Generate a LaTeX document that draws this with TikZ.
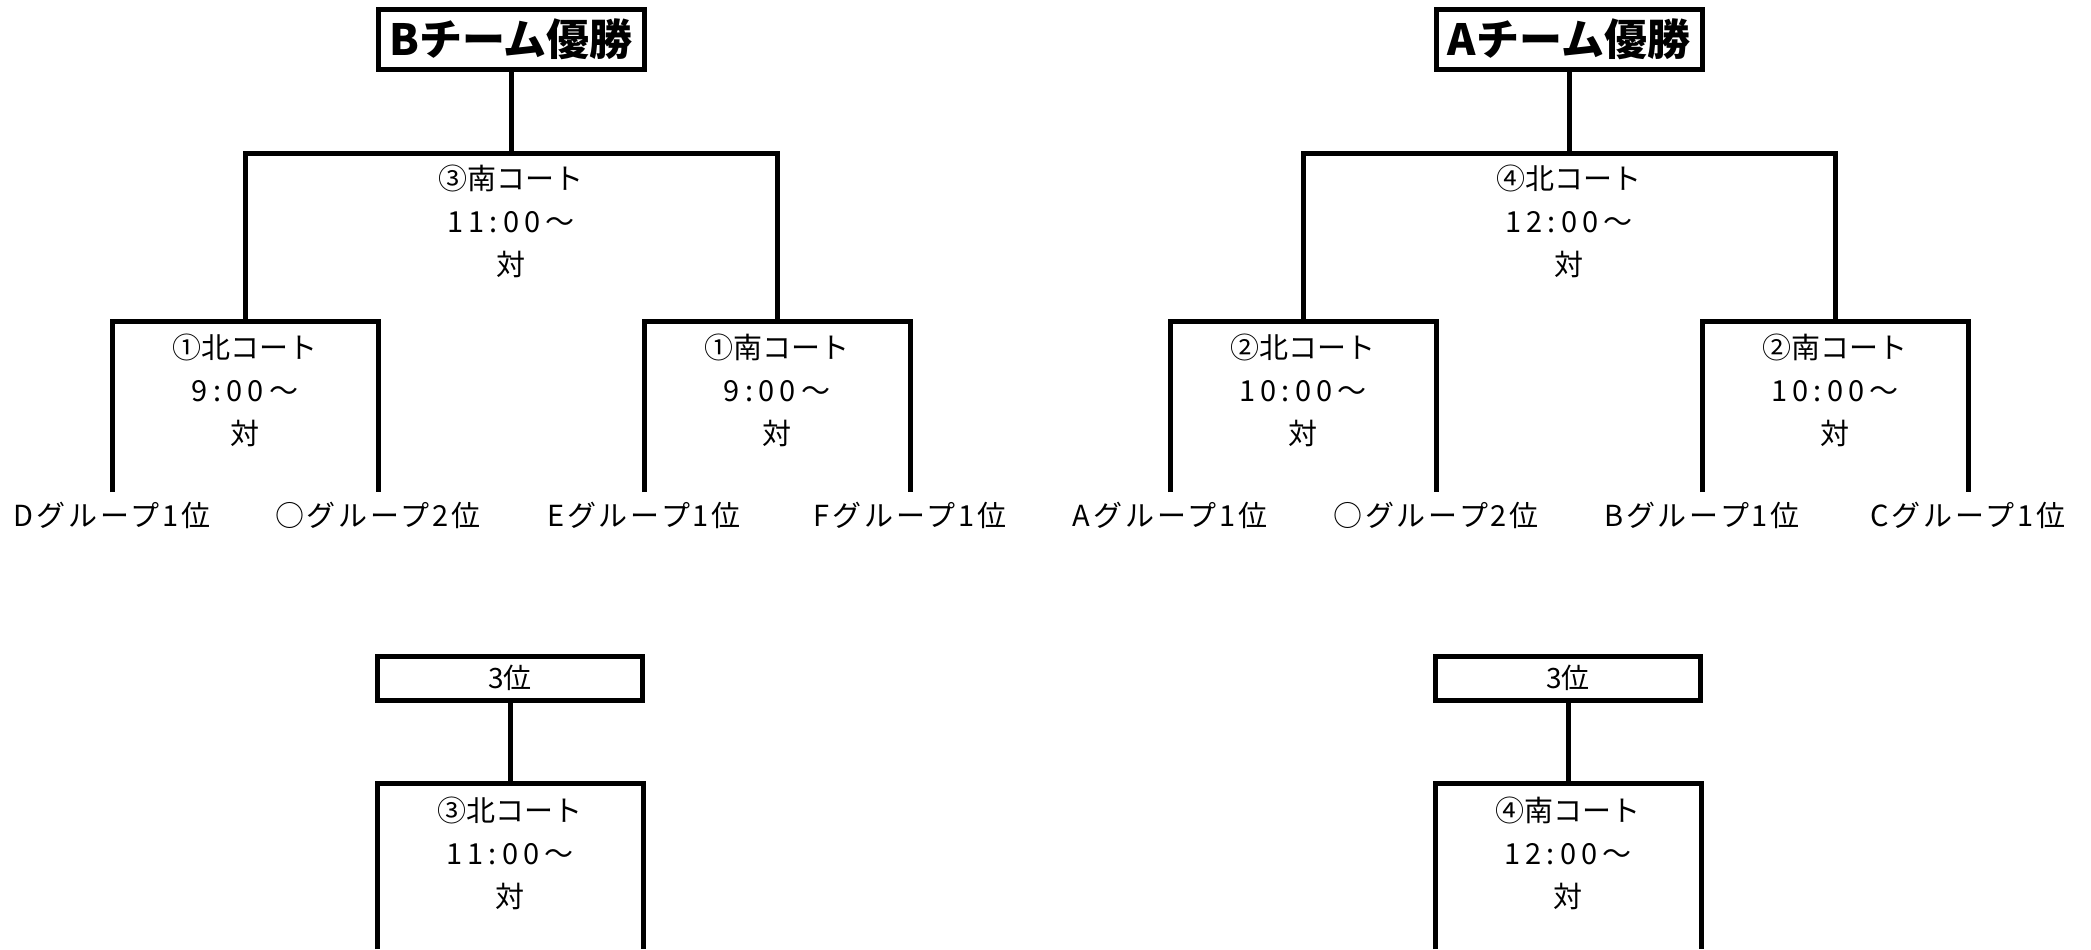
\documentclass[tikz,border=0pt]{standalone}
\usepackage{fontspec}
\setmainfont{Noto Sans CJK JP}
\newfontfamily\timefont[LetterSpace=18]{Noto Sans CJK JP}
\begin{document}
\begin{tikzpicture}[x=0.5pt,y=-0.5pt,
  bracket/.style={line width=2.5pt},
  champ/.style={draw,line width=2.5pt,minimum width=133pt,minimum height=30pt,inner sep=0pt,font=\bfseries\fontsize{21.5pt}{21.5pt}\selectfont},
  thirdbox/.style={draw,line width=2.5pt,minimum width=132.5pt,minimum height=22pt,inner sep=0pt,font=\fontsize{14pt}{14pt}\selectfont},
  match/.style={align=center,inner sep=0pt,font=\fontsize{14.5pt}{21.5pt}\selectfont},
  team/.style={inner xsep=0pt,inner ysep=5pt,text height=12pt,text depth=2.5pt,font=\fontsize{14.5pt}{14.5pt}\selectfont\addfontfeatures{LetterSpace=10}}]
\useasboundingbox (0,0) rectangle (2091,949);
\node[champ] (champB) at (511,39) {Bチーム優勝};
\coordinate (finB) at (511,153);
\coordinate (semiB1) at (245,321);
\coordinate (semiB2) at (777,321);
\node[match] (mB3) at (511,221) {③南コート\\{\timefont 11:00〜}\\対};
\node[match] (mB1) at (245,390) {①北コート\\{\timefont 9:00〜}\\対};
\node[match] (mB2) at (777,390) {①南コート\\{\timefont 9:00〜}\\対};
\node[team] (tD) at (112,517) {Dグループ1位};
\node[team] (tO1) at (378,517) {○グループ2位};
\node[team] (tE) at (644,517) {Eグループ1位};
\node[team] (tF) at (910,517) {Fグループ1位};
\draw[bracket] (champB.south) -- (finB);
\draw[bracket] (semiB1) |- (finB) -| (semiB2);
\draw[bracket] (tD.north) |- (semiB1) -| (tO1.north);
\draw[bracket] (tE.north) |- (semiB2) -| (tF.north);
\node[champ] (champA) at (1569,39) {Aチーム優勝};
\coordinate (finA) at (1569,153);
\coordinate (semiA1) at (1303,321);
\coordinate (semiA2) at (1835,321);
\node[match] (mA4) at (1569,221) {④北コート\\{\timefont 12:00〜}\\対};
\node[match] (mA1) at (1303,390) {②北コート\\{\timefont 10:00〜}\\対};
\node[match] (mA2) at (1835,390) {②南コート\\{\timefont 10:00〜}\\対};
\node[team] (tA) at (1170,517) {Aグループ1位};
\node[team] (tO2) at (1436,517) {○グループ2位};
\node[team] (tB) at (1702,517) {Bグループ1位};
\node[team] (tC) at (1968,517) {Cグループ1位};
\draw[bracket] (champA.south) -- (finA);
\draw[bracket] (semiA1) |- (finA) -| (semiA2);
\draw[bracket] (tA.north) |- (semiA1) -| (tO2.north);
\draw[bracket] (tB.north) |- (semiA2) -| (tC.north);
\node[thirdbox] (thirdB) at (510,678) {3位};
\coordinate (lowB) at (510,783);
\coordinate (lowB1) at (377,949);
\coordinate (lowB2) at (643,949);
\node[match] (mB3n) at (510,853) {③北コート\\{\timefont 11:00〜}\\対};
\draw[bracket] (thirdB.south) -- (lowB);
\draw[bracket] (lowB1) |- (lowB) -| (lowB2);
\node[thirdbox] (thirdA) at (1568,678) {3位};
\coordinate (lowA) at (1568,783);
\coordinate (lowA1) at (1435,949);
\coordinate (lowA2) at (1701,949);
\node[match] (mA4s) at (1568,853) {④南コート\\{\timefont 12:00〜}\\対};
\draw[bracket] (thirdA.south) -- (lowA);
\draw[bracket] (lowA1) |- (lowA) -| (lowA2);
\end{tikzpicture}
\end{document}
